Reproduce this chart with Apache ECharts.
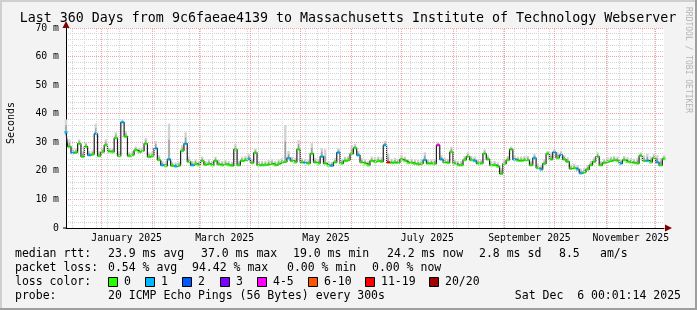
<!DOCTYPE html>
<html><head><meta charset="utf-8">
<script src="https://cdn.jsdelivr.net/npm/echarts@6/dist/echarts.min.js"></script>
<style>html,body{margin:0;padding:0;background:#f3f3f3}#c{width:697px;height:310px}</style>
</head><body><div id="c"></div>
<script>
// ---- data (one sample every 2 days) ----
const startTime = Date.UTC(2024, 11, 11, 0, 1, 14);
const spanDays = 360;
const stepDays = 2;
const medianRtt = [
33.5,28.5,26.3,26.5,29.5,25.0,28.5,25.5,25.8,33.0,
25.2,26.6,29.0,26.8,26.6,31.5,25.2,37.0,32.0,25.2,
25.6,27.3,26.6,27.0,29.5,24.9,25.3,27.9,23.8,22.0,
21.7,24.0,21.8,21.6,21.9,27.0,29.5,23.2,22.0,22.5,
22.0,23.5,22.2,22.5,22.0,23.5,22.3,22.0,22.4,22.0,
21.8,27.5,22.0,23.5,23.8,24.2,22.8,26.3,22.0,22.0,
22.1,22.3,22.5,22.0,22.5,23.0,23.2,24.5,23.5,23.0,
27.5,23.0,22.8,22.6,26.0,23.0,22.6,25.0,22.6,21.9,
21.8,23.0,26.4,22.6,23.5,23.8,26.0,28.0,25.5,23.0,
22.6,22.0,23.5,23.2,23.5,23.2,29.0,23.0,22.8,23.0,
22.8,24.0,23.5,22.8,22.8,22.5,22.3,22.6,23.8,22.6,
22.6,22.5,29.0,24.0,23.0,22.8,26.6,22.6,22.0,22.0,
23.8,25.0,23.8,23.5,22.6,22.6,26.0,24.0,22.0,22.0,
21.5,19.0,22.5,23.8,27.5,24.0,23.6,23.6,23.8,23.8,
22.0,24.5,21.0,20.5,22.5,26.0,24.0,26.5,24.5,25.5,
24.0,23.2,20.8,21.0,20.5,19.2,19.5,20.5,22.0,23.2,
25.0,22.0,22.8,23.2,23.5,23.8,23.5,22.6,23.8,23.2,
23.0,22.8,22.6,25.3,23.5,23.6,23.0,24.5,23.0,22.0,
24.2];
const smokeMax = [
38.0,31.0,27.8,27.8,31.0,26.8,30.0,27.0,27.2,36.5,
26.8,28.0,31.0,28.0,28.0,33.5,26.8,38.0,34.0,26.5,
27.0,28.5,28.0,28.2,31.5,26.5,26.8,30.5,25.5,23.5,
23.0,36.5,23.2,23.0,23.2,29.0,33.5,25.0,23.5,24.0,
23.5,25.0,23.5,24.0,23.5,25.0,23.8,23.5,23.8,23.5,
23.2,29.5,23.5,25.0,25.2,26.0,24.2,27.8,23.5,23.5,
23.5,23.8,24.0,23.5,24.0,24.5,36.0,27.0,25.0,24.5,
30.8,24.5,24.2,24.0,29.7,24.5,24.0,28.0,27.5,23.5,
23.2,24.5,28.0,24.0,25.0,25.2,29.0,29.5,27.0,24.5,
24.0,23.5,25.0,24.8,25.0,24.8,30.5,26.0,24.2,24.5,
24.2,25.5,25.0,24.2,24.2,24.0,23.8,24.0,26.5,24.0,
24.0,24.0,30.0,25.5,24.5,24.2,28.5,24.0,23.5,23.5,
25.2,26.5,25.2,25.0,24.0,24.0,27.5,25.5,23.5,23.5,
23.0,21.0,24.0,25.2,28.5,25.5,25.0,25.0,25.2,25.2,
23.5,26.0,22.5,22.0,24.0,27.0,26.5,27.5,26.5,27.0,
25.5,24.8,22.2,22.5,22.0,20.8,21.0,22.0,23.5,24.8,
26.5,23.5,24.2,24.8,25.0,25.2,25.0,24.0,25.2,24.8,
24.5,24.2,24.5,26.5,25.5,26.0,25.0,26.0,25.5,24.5,
25.5];
const lossBucket = [
1,0,1,0,0,0,0,1,0,1,
0,0,0,0,0,0,0,1,0,0,
0,0,0,0,0,0,0,1,0,1,
0,1,0,1,0,0,1,0,1,0,
0,0,0,0,0,0,0,0,0,0,
0,0,0,0,0,1,0,0,0,0,
0,0,0,0,0,0,0,1,0,0,
0,0,1,0,0,0,0,1,0,0,
1,0,1,0,0,0,0,0,1,0,
0,0,0,0,0,0,1,6,0,0,
0,0,0,0,0,0,0,0,1,0,
0,0,4,1,0,0,0,0,0,0,
0,0,0,1,0,0,0,0,0,0,
0,0,0,0,0,1,0,0,0,0,
0,1,0,1,0,0,0,1,0,1,
0,0,0,0,1,1,0,0,0,0,
0,0,0,0,0,0,0,1,0,0,
0,0,0,0,0,1,0,0,1,0,
0];
const lossColors = ['#26ff00','#00b8ff','#0059ff','#7e00ff','#ff00ff','#ff5500','#ff0000','#a10000'];
const lossLabels = ['0','1','2','3','4-5','6-10','11-19','20/20'];
const monthStarts = ['2024-12-01','2025-01-01','2025-02-01','2025-03-01','2025-04-01','2025-05-01','2025-06-01',
  '2025-07-01','2025-08-01','2025-09-01','2025-10-01','2025-11-01','2025-12-01','2026-01-01'];
const xLabelMonths = [1,3,5,7,9,11]; // indices into monthStarts
const xLabelText = ['January 2025','March 2025','May 2025','July 2025','September 2025','November 2025'];
const firstWeekLine = '2024-12-15';
const yMin = 0, yMax = 70, yStep = 10;
const titleText = 'Last 360 Days from 9c6faeae4139 to Massachusetts Institute of Technology Webserver';
const legendHeads = ['median rtt:', 'packet loss:', 'loss color:', 'probe:'];
const rttItems = ['23.9 ms avg', '37.0 ms max', '19.0 ms min', '24.2 ms now', '2.8 ms sd', '8.5', 'am/s'];
const lossItems = ['0.54 % avg', '94.42 % max', '0.00 % min', '0.00 % now'];
const probeText = '20 ICMP Echo Pings (56 Bytes) every 300s';
const dateText = 'Sat Dec  6 00:01:14 2025';

// ---- helpers ----
const DAY = 86400000;
const toDay = s => (Date.parse(s + 'T00:00:00Z') - startTime) / DAY;
const mono = "'DejaVu Sans Mono', monospace";
const xs = medianRtt.map((_, i) => i * stepDays);
const medPts = medianRtt.map((v, i) => [xs[i], v]);
const smokePts = smokeMax.map((v, i) => [xs[i], medianRtt[i], v]);
const lossPts = medianRtt.map((v, i) => [xs[i], v, lossBucket[i]]);

const monthDays = monthStarts.map(toDay);
const labelPos = xLabelMonths.map(i => (monthDays[i] + monthDays[i + 1]) / 2);
const gridMarks = [];
for (let d = toDay(firstWeekLine); d <= spanDays; d += 7) {
  gridMarks.push({xAxis: d, lineStyle: {color: '#d4d4d4', width: 1, type: [1, 1]}});
}
monthDays.forEach(d => { if (d >= 0 && d <= spanDays) gridMarks.push({xAxis: d, lineStyle: {color: '#f2a2a2', width: 1, type: [1, 1]}}); });

const chart = echarts.init(document.getElementById('c'), null, {renderer: 'canvas'});
const GL = 66, GT = 28, GW = 598, GH = 200;
chart.setOption({
  animation: false,
  backgroundColor: '#f3f3f3',
  grid: {left: GL, top: GT, width: GW, height: GH, show: true, backgroundColor: '#ffffff', borderWidth: 0},
  xAxis: {
    type: 'value', min: 0, max: spanDays,
    axisLine: {show: true, lineStyle: {color: '#000', width: 1}},
    axisTick: {show: false},
    splitLine: {show: false},
    axisLabel: {
      customValues: labelPos,
      formatter: v => { let k = 0, b = 1e9; labelPos.forEach((p, i) => { if (Math.abs(p - v) < b) { b = Math.abs(p - v); k = i; } }); return xLabelText[k]; },
      fontFamily: mono, fontSize: 9.8, color: '#000', margin: 5
    }
  },
  yAxis: {
    type: 'value', min: yMin, max: yMax, interval: yStep,
    axisLine: {show: true, lineStyle: {color: '#000', width: 1}},
    axisTick: {show: false},
    axisLabel: {formatter: v => v === 0 ? '0' : v + ' m', fontFamily: mono, fontSize: 9.8, color: '#000', margin: 7},
    splitLine: {show: true, lineStyle: {color: '#f2a2a2', width: 1, type: [1, 1]}},
    minorTick: {show: false, splitNumber: 5},
    minorSplitLine: {show: true, lineStyle: {color: '#d4d4d4', width: 1, type: [1, 1]}}
  },
  series: [
    {type: 'line', data: medPts, symbol: 'none', lineStyle: {opacity: 0}, silent: true, z: 1,
     markLine: {silent: true, symbol: ['none', 'none'], label: {show: false}, data: gridMarks, animation: false}},
    {type: 'custom', data: smokePts, z: 2, silent: true,
     renderItem: (params, api) => {
       const x = api.value(0);
       const a = api.coord([x - stepDays / 2, api.value(1)]);
       const b = api.coord([x + stepDays / 2, api.value(2)]);
       const w = b[0] - a[0];
       return {type: 'group', children: [
         {type: 'rect', shape: {x: a[0] + w * 0.15, y: b[1], width: w * 0.7, height: a[1] - b[1]}, style: {fill: '#d2d2d2'}},
         {type: 'rect', shape: {x: a[0] + w * 0.3, y: b[1] + (a[1] - b[1]) * 0.45, width: w * 0.4, height: (a[1] - b[1]) * 0.55}, style: {fill: '#9a9a9a'}}
       ]};
     }},
    {type: 'line', data: medPts, step: 'middle', symbol: 'none', lineStyle: {color: '#202020', width: 1.2}, z: 3},
    {type: 'scatter', data: lossPts, symbol: 'rect', symbolSize: [3.4, 2.6],
     itemStyle: {color: p => lossColors[p.value[2]]}, z: 4}
  ]
});

// ---- decorations: text, arrows, legend, frame ----
const p00 = chart.convertToPixel({gridIndex: 0}, [0, yMin]);
const pTop = chart.convertToPixel({gridIndex: 0}, [0, yMax]);
const pRight = chart.convertToPixel({gridIndex: 0}, [spanDays, yMin]);
const arrow = '#7f0000';
const LF = 11.5;
const g = [];
const txt = (x, y, t, extra) => g.push({type: 'text', x, y, style: Object.assign({text: t, fontFamily: mono, fontSize: LF, fill: '#000', verticalAlign: 'middle'}, extra || {})});
g.push({type: 'text', x: 348, y: 19, style: {text: titleText, fontFamily: mono, fontSize: 13.3, fill: '#000', align: 'center', verticalAlign: 'middle'}});
g.push({type: 'text', x: 11, y: 123, rotation: Math.PI / 2, style: {text: 'Seconds', fontFamily: mono, fontSize: 10, fill: '#000', align: 'center', verticalAlign: 'middle'}});
g.push({type: 'text', x: 688, y: 60, rotation: -Math.PI / 2, style: {text: 'RRDTOOL / TOBI OETIKER', fontFamily: mono, fontSize: 8, fill: '#b4b4b4', align: 'center', verticalAlign: 'middle'}});
g.push({type: 'polygon', shape: {points: [[pTop[0] - 3.5, pTop[1]], [pTop[0] + 3.5, pTop[1]], [pTop[0], pTop[1] - 7]]}, style: {fill: arrow}, z: 10});
g.push({type: 'polygon', shape: {points: [[pRight[0] + 1, pRight[1] - 3.5], [pRight[0] + 1, pRight[1] + 3.5], [pRight[0] + 8, pRight[1]]]}, style: {fill: arrow}, z: 10});
g.push({type: 'line', shape: {x1: p00[0] - 3, y1: p00[1], x2: p00[0], y2: p00[1]}, style: {stroke: '#000'}, z: 9});
const rowY = [254, 268, 282, 296.5];
legendHeads.forEach((t, i) => txt(15, rowY[i], t));
const rttX = [108, 201, 293, 387, 479, 559, 600];
rttItems.forEach((t, i) => txt(rttX[i], rowY[0], t));
const lossX = [108, 192, 287, 372];
lossItems.forEach((t, i) => txt(lossX[i], rowY[1], t));
txt(108, rowY[3], probeText);
txt(681, rowY[3], dateText, {align: 'right'});
const boxX = [108, 145, 182, 220, 257, 308, 365, 429];
lossColors.forEach((c, i) => {
  g.push({type: 'rect', shape: {x: boxX[i] + 0.5, y: rowY[2] - 4.5, width: 9, height: 9}, style: {fill: c, stroke: '#000', lineWidth: 1}});
  txt(boxX[i] + 16, rowY[2], lossLabels[i]);
});
g.push({type: 'rect', shape: {x: 0, y: 0, width: 697, height: 2}, style: {fill: '#cfcfcf'}});
g.push({type: 'rect', shape: {x: 0, y: 0, width: 2, height: 310}, style: {fill: '#cfcfcf'}});
g.push({type: 'rect', shape: {x: 0, y: 308, width: 697, height: 2}, style: {fill: '#9e9e9e'}});
g.push({type: 'rect', shape: {x: 695, y: 0, width: 2, height: 310}, style: {fill: '#9e9e9e'}});
chart.setOption({graphic: g});
</script></body></html>
